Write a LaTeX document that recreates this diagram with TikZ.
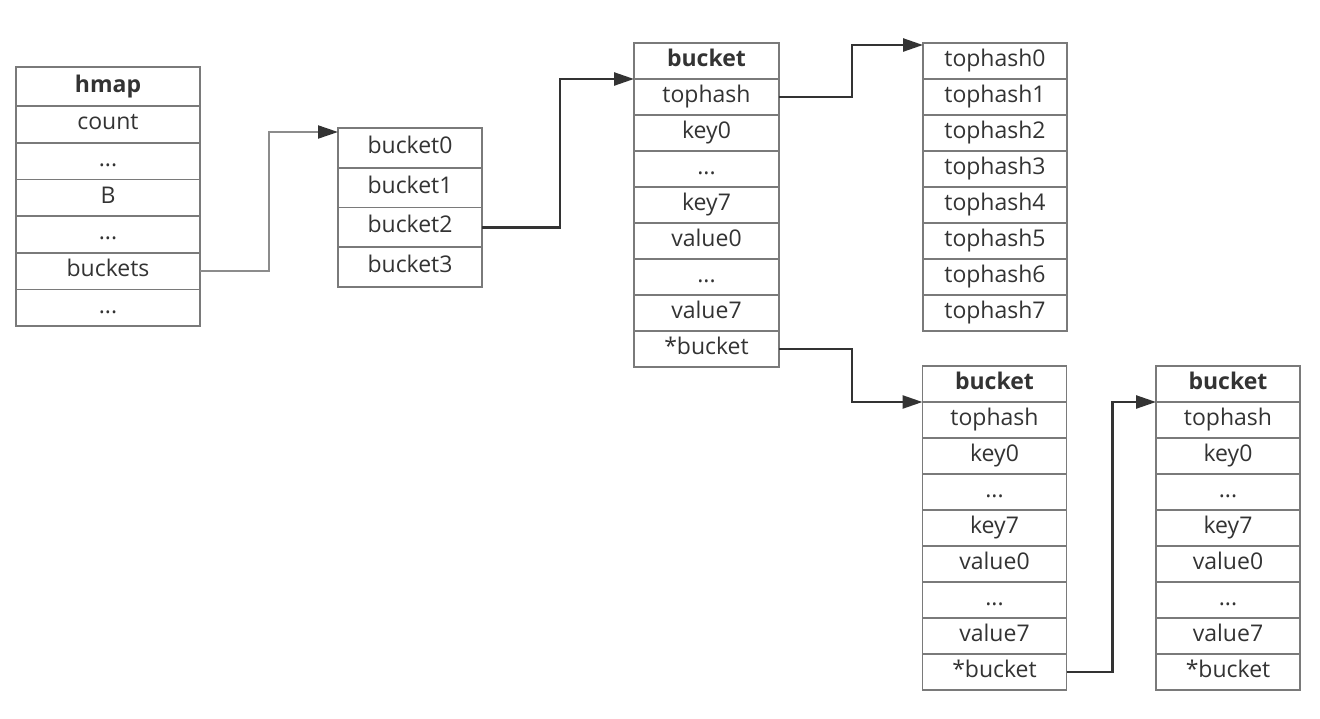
\documentclass[tikz,border=0pt]{standalone}
\usepackage{fontspec}
\setmainfont{Open Sans}
\usetikzlibrary{positioning,arrows.meta}

\definecolor{boxgray}{HTML}{7A7A7A}
\definecolor{inkgray}{HTML}{333333}
\definecolor{linkgray}{HTML}{8C8C8C}

\tikzset{
    cell/.style={draw=boxgray, line width=1.6pt, minimum width=144pt, minimum height=36pt,
        inner sep=0pt, outer sep=0pt, text=inkgray, text height=15pt, text depth=4pt,
        font=\fontsize{23}{23}\selectfont, anchor=north},
    head/.style={cell, font=\fontsize{23}{23}\selectfont\bfseries},
    hcell/.style={cell, minimum width=184pt, minimum height=36.7pt},
    acell/.style={cell, minimum height=39.7pt},
    link/.style={draw=inkgray, line width=2.5pt, -{Triangle[length=20pt,width=13pt]}},
}

\begin{document}
\begin{tikzpicture}[x=1pt, y=1pt]
    \useasboundingbox (0,0) rectangle (1320,-718);

    % hmap
    \node[head, minimum width=184pt, minimum height=39pt] (hmap) at (108,-67) {hmap};
    \node[hcell, below=0pt of hmap] (hmap-count) {count};
    \node[hcell, below=0pt of hmap-count] (hmap-dots1) {...};
    \node[hcell, below=0pt of hmap-dots1] (hmap-B) {B};
    \node[hcell, below=0pt of hmap-B] (hmap-dots2) {...};
    \node[hcell, below=0pt of hmap-dots2] (hmap-buckets) {buckets};
    \node[hcell, below=0pt of hmap-buckets] (hmap-dots3) {...};

    % buckets array
    \node[acell] (arr-0) at (410,-128) {bucket0};
    \node[acell, below=0pt of arr-0] (arr-1) {bucket1};
    \node[acell, below=0pt of arr-1] (arr-2) {bucket2};
    \node[acell, below=0pt of arr-2] (arr-3) {bucket3};

    % first bucket
    \node[head, minimum width=145pt] (bk-0) at (706.5,-43) {bucket};
    \node[cell, minimum width=145pt, below=0pt of bk-0] (bk-1) {tophash};
    \node[cell, minimum width=145pt, below=0pt of bk-1] (bk-2) {key0};
    \node[cell, minimum width=145pt, below=0pt of bk-2] (bk-3) {...};
    \node[cell, minimum width=145pt, below=0pt of bk-3] (bk-4) {key7};
    \node[cell, minimum width=145pt, below=0pt of bk-4] (bk-5) {value0};
    \node[cell, minimum width=145pt, below=0pt of bk-5] (bk-6) {...};
    \node[cell, minimum width=145pt, below=0pt of bk-6] (bk-7) {value7};
    \node[cell, minimum width=145pt, below=0pt of bk-7] (bk-8) {*bucket};

    % tophash array
    \node[cell] (th-0) at (995,-43) {tophash0};
    \node[cell, below=0pt of th-0] (th-1) {tophash1};
    \node[cell, below=0pt of th-1] (th-2) {tophash2};
    \node[cell, below=0pt of th-2] (th-3) {tophash3};
    \node[cell, below=0pt of th-3] (th-4) {tophash4};
    \node[cell, below=0pt of th-4] (th-5) {tophash5};
    \node[cell, below=0pt of th-5] (th-6) {tophash6};
    \node[cell, below=0pt of th-6] (th-7) {tophash7};

    % overflow bucket
    \node[head] (bkb-0) at (994.5,-366) {bucket};
    \node[cell, below=0pt of bkb-0] (bkb-1) {tophash};
    \node[cell, below=0pt of bkb-1] (bkb-2) {key0};
    \node[cell, below=0pt of bkb-2] (bkb-3) {...};
    \node[cell, below=0pt of bkb-3] (bkb-4) {key7};
    \node[cell, below=0pt of bkb-4] (bkb-5) {value0};
    \node[cell, below=0pt of bkb-5] (bkb-6) {...};
    \node[cell, below=0pt of bkb-6] (bkb-7) {value7};
    \node[cell, below=0pt of bkb-7] (bkb-8) {*bucket};

    % next overflow bucket
    \node[head] (bkc-0) at (1228,-366) {bucket};
    \node[cell, below=0pt of bkc-0] (bkc-1) {tophash};
    \node[cell, below=0pt of bkc-1] (bkc-2) {key0};
    \node[cell, below=0pt of bkc-2] (bkc-3) {...};
    \node[cell, below=0pt of bkc-3] (bkc-4) {key7};
    \node[cell, below=0pt of bkc-4] (bkc-5) {value0};
    \node[cell, below=0pt of bkc-5] (bkc-6) {...};
    \node[cell, below=0pt of bkc-6] (bkc-7) {value7};
    \node[cell, below=0pt of bkc-7] (bkc-8) {*bucket};

    % links
    \draw[link, draw=linkgray, line width=2pt, -{Triangle[length=20pt,width=13pt,color=inkgray]}]
        (hmap-buckets.east) -- ++(69,0) |- ([yshift=-4pt]arr-0.north west);
    \draw[link] (arr-2.east) -- ++(78,0) |- (bk-0.south west);
    \draw[link] (bk-1.east) -- ++(73,0) |- ([yshift=-2pt]th-0.north west);
    \draw[link] (bk-8.east) -- ++(73,0) |- (bkb-0.south west);
    \draw[link] (bkb-8.east) -- ++(46,0) |- (bkc-0.south west);
\end{tikzpicture}
\end{document}
